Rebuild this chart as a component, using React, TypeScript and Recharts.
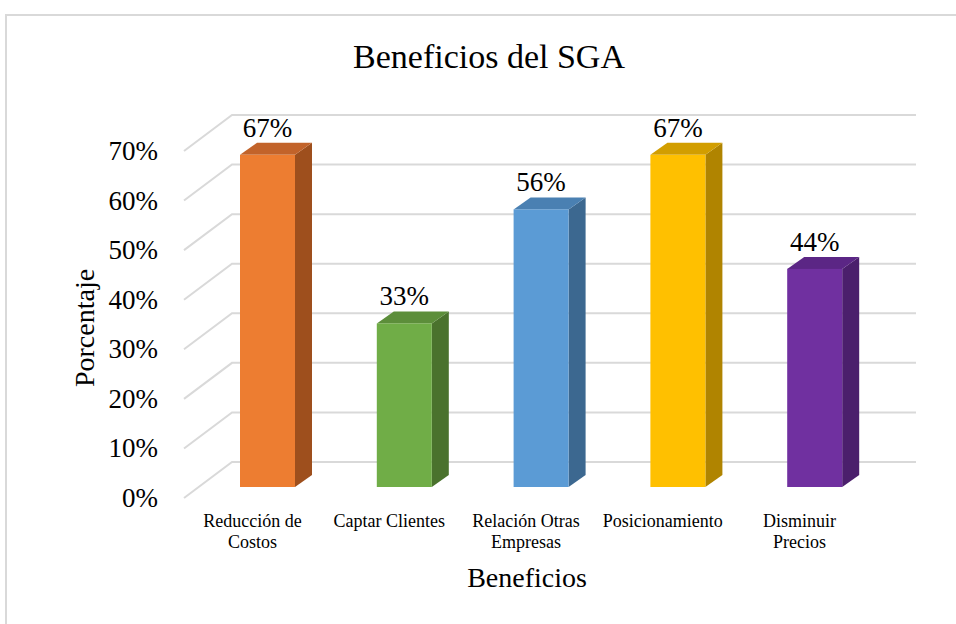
import { BarChart, Bar, XAxis, YAxis, CartesianGrid } from "recharts"

const categories = ["Reducción de\nCostos", "Captar Clientes", "Relación Otras\nEmpresas", "Posicionamiento", "Disminuir\nPrecios"]
const values = [0.67, 0.33, 0.56, 0.67, 0.44]
const yTicks = [0, 0.1, 0.2, 0.3, 0.4, 0.5, 0.6, 0.7]

const frontColors = ["#ED7D31", "#70AD47", "#5B9BD5", "#FFC000", "#7030A0"]
const sideColors = ["#9E4F1D", "#4A722D", "#3C6890", "#B08400", "#4B1F6C"]
const topColors = ["#C2632A", "#5C8E3A", "#4A80B2", "#D29E00", "#5B2685"]

const data = categories.map((name, i) => ({ name, value: values[i] }))

const FONT = "'Liberation Serif', 'Times New Roman', serif"
// depth offsets: bar plane -> back wall / front edge
const BACK_DX = 33
const BACK_DY = -25
const FRONT_DX = -15
const FRONT_DY = 11
const BAR_DX = 17
const BAR_DY = -12

const GridLine = (props: any) => {
  const { x1, x2, y1 } = props
  return (
    <polyline
      key={props.key ?? props.index}
      points={`${x1 + FRONT_DX},${y1 + FRONT_DY} ${x1 + BACK_DX},${y1 + BACK_DY} ${x2 + BACK_DX},${y1 + BACK_DY}`}
      fill="none"
      stroke="#d9d9d9"
      strokeWidth={2}
    />
  )
}

// 3d box + value label above it
const Box = (props: any) => {
  const { x, y, width, height, index, payload } = props
  const r = x + width
  const b = y + height
  return (
    <g>
      <polygon
        points={`${r},${y} ${r + BAR_DX},${y + BAR_DY} ${r + BAR_DX},${b + BAR_DY} ${r},${b}`}
        fill={sideColors[index]}
      />
      <polygon
        points={`${x},${y} ${x + BAR_DX},${y + BAR_DY} ${r + BAR_DX},${y + BAR_DY} ${r},${y}`}
        fill={topColors[index]}
      />
      <rect x={x} y={y} width={width} height={height} fill={frontColors[index]} />
      <text x={x + width / 2} y={y - 18} textAnchor="middle" style={{ fontFamily: FONT, fontSize: 27 }} fill="#000">
        {Math.round(payload.value * 100)}%
      </text>
    </g>
  )
}

const YTick = (props: any) => {
  const { y, payload } = props
  return (
    <text x={158} y={y + FRONT_DY} textAnchor="end" dominantBaseline="central" style={{ fontFamily: FONT, fontSize: 27 }} fill="#000">
      {Math.round(payload.value * 100)}%
    </text>
  )
}

const XTick = (props: any) => {
  const { x, y, payload } = props
  const lines = String(payload.value).split("\n")
  return (
    <text textAnchor="middle" style={{ fontFamily: FONT, fontSize: 18 }} fill="#000">
      {lines.map((l, i) => (
        <tspan key={i} x={x + FRONT_DX} y={y + 32 + i * 21}>
          {l}
        </tspan>
      ))}
    </text>
  )
}

export default function App() {
  return (
    <div style={{ position: "absolute", left: 0, top: 0, width: 956, height: 624, overflow: "hidden", background: "#fff" }}>
      <div
        style={{
          position: "absolute",
          left: 5,
          top: 14,
          width: 1000,
          height: 700,
          border: "2px solid #d9d9d9",
          boxSizing: "border-box",
        }}
      />
      <BarChart
        width={956}
        height={624}
        data={data}
        margin={{ top: 140, right: 73, bottom: 77, left: 99 }}
        barSize={55}
        style={{ position: "absolute", left: 0, top: 0 }}
      >
        <CartesianGrid vertical={false} horizontal={GridLine} />
        <YAxis
          width={100}
          domain={[0, 0.7]}
          ticks={yTicks}
          axisLine={false}
          tickLine={false}
          tick={YTick}
          interval={0}
        />
        <XAxis dataKey="name" height={60} axisLine={false} tickLine={false} tick={XTick} interval={0} />
        <Bar dataKey="value" shape={Box} isAnimationActive={false} />
        <text x={489} y={68} textAnchor="middle" style={{ fontFamily: FONT, fontSize: 34 }} fill="#000">
          Beneficios del SGA
        </text>
        <text transform="translate(94,328) rotate(-90)" textAnchor="middle" style={{ fontFamily: FONT, fontSize: 28 }} fill="#000">
          Porcentaje
        </text>
        <text x={527} y={587} textAnchor="middle" style={{ fontFamily: FONT, fontSize: 28 }} fill="#000">
          Beneficios
        </text>
      </BarChart>
    </div>
  )
}
